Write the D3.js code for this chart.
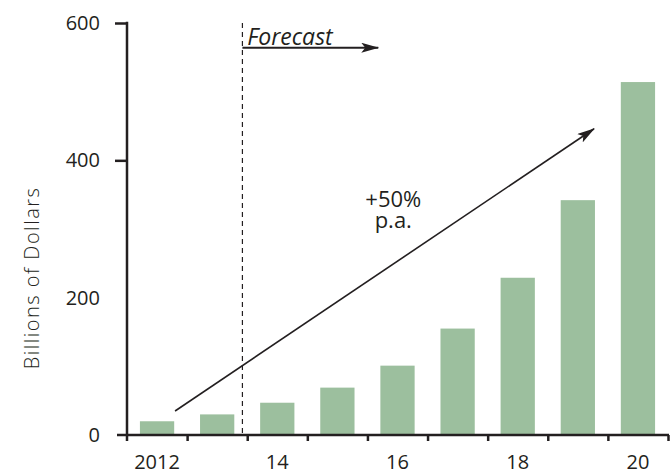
<!DOCTYPE html>
<html>
<head>
<meta charset="utf-8">
<script src="https://cdn.jsdelivr.net/npm/d3@7"></script>
<style>
  body { margin: 0; background: #fff; }
  text { font-family: "Open Sans", "Noto Sans", sans-serif; fill: #231f20; }
</style>
</head>
<body>
<script>
// chart data
var years = [2012, 2013, 2014, 2015, 2016, 2017, 2018, 2019, 2020];
var values = [20, 30, 47, 69, 101, 155, 229, 342, 514];
var yTicks = [0, 200, 400, 600];
var xLabelYears = [2012, 2014, 2016, 2018, 2020];
var xLabelText = ["2012", "14", "16", "18", "20"];

var W = 670, H = 473;
// plot edges (note: "top" is a reserved window prop, so use plot*)
var plotLeft = 127, plotRight = 668, plotTop = 23, plotBottom = 435;
var ink = "#231f20";

var svg = d3.select("body").append("svg")
    .attr("width", W)
    .attr("height", H);

// arrowheads
var defs = svg.append("defs");
defs.append("marker")
    .attr("id", "head")
    .attr("viewBox", "0 0 18 10")
    .attr("refX", 17).attr("refY", 5)
    .attr("markerWidth", 18).attr("markerHeight", 10)
    .attr("markerUnits", "userSpaceOnUse")
    .attr("orient", "auto")
  .append("path")
    .attr("d", "M0,0 L18,5 L0,10 L4,5 Z")
    .attr("fill", ink);

var x = d3.scaleBand()
    .domain(years)
    .range([plotLeft, plotRight])
    .paddingInner(0.43)
    .paddingOuter(0.215);

// continuous version of the year axis (band edges at half years)
var xc = d3.scaleLinear()
    .domain([years[0] - 0.5, years[years.length - 1] + 0.5])
    .range([plotLeft, plotRight]);

var y = d3.scaleLinear().domain([0, 600]).range([plotBottom, plotTop]);

// bars
svg.append("g").selectAll("rect")
    .data(years)
  .enter().append("rect")
    .attr("x", function (d) { return x(d); })
    .attr("width", x.bandwidth())
    .attr("y", function (d, i) { return y(values[i]); })
    .attr("height", function (d, i) { return y(0) - y(values[i]); })
    .attr("fill", "#9cbf9e");

// y axis
var gY = svg.append("g")
    .attr("transform", "translate(" + plotLeft + ",0)")
    .call(d3.axisLeft(y).tickValues(yTicks).tickSize(12).tickPadding(15).tickFormat(d3.format("d")));
gY.select(".domain").remove();
gY.selectAll(".tick line")
    .attr("stroke", ink).attr("stroke-width", 2.5)
    .style("display", function (d) { return d === 400 || d === 600 ? null : "none"; });
gY.selectAll(".tick text")
    .attr("font-size", 20).style("fill", ink);
svg.append("line")
    .attr("x1", plotLeft).attr("x2", plotLeft)
    .attr("y1", y(600) - 1.2).attr("y2", plotBottom + 6)
    .attr("stroke", ink).attr("stroke-width", 2.5);

// x axis: ticks on band edges
var edges = d3.range(years[0] - 0.5, years[years.length - 1] + 1, 1);
var gX = svg.append("g")
    .attr("transform", "translate(0," + plotBottom + ")")
    .call(d3.axisBottom(xc).tickValues(edges.slice(1)).tickSize(6).tickFormat(""));
gX.select(".domain").remove();
gX.selectAll(".tick line").attr("stroke", ink).attr("stroke-width", 2.5);
svg.append("line")
    .attr("x1", plotLeft - 10).attr("x2", plotRight + 1)
    .attr("y1", plotBottom).attr("y2", plotBottom)
    .attr("stroke", ink).attr("stroke-width", 2.5);

svg.append("g").selectAll("text")
    .data(xLabelYears)
  .enter().append("text")
    .attr("x", function (d) { return x(d) + x.bandwidth() / 2; })
    .attr("y", 469)
    .attr("text-anchor", "middle")
    .attr("font-size", 20)
    .text(function (d, i) { return xLabelText[i]; });

// y label
svg.append("text")
    .attr("transform", "translate(39,278) rotate(-90)")
    .attr("text-anchor", "middle")
    .attr("font-size", 20)
    .attr("font-weight", 300)
    .attr("letter-spacing", 1.5)
    .text("Billions of Dollars");

// forecast divider
var forecastX = xc(2013.42);
svg.append("line")
    .attr("x1", forecastX).attr("x2", forecastX)
    .attr("y1", y(600)).attr("y2", plotBottom)
    .attr("stroke", ink).attr("stroke-width", 1.2)
    .attr("stroke-dasharray", "5,4");

svg.append("line")
    .attr("x1", forecastX).attr("x2", xc(2015.68))
    .attr("y1", y(564)).attr("y2", y(564))
    .attr("stroke", ink).attr("stroke-width", 2)
    .attr("marker-end", "url(#head)");

svg.append("text")
    .attr("x", xc(2013.5))
    .attr("y", y(568))
    .attr("font-size", 23)
    .attr("font-style", "italic")
    .text("Forecast");

// growth arrow
svg.append("line")
    .attr("x1", xc(2012.3)).attr("y1", y(35))
    .attr("x2", xc(2019.27)).attr("y2", y(446))
    .attr("stroke", ink).attr("stroke-width", 1.6)
    .attr("marker-end", "url(#head)");

svg.append("text")
    .attr("x", xc(2015.93)).attr("y", y(332))
    .attr("text-anchor", "middle")
    .attr("font-size", 22)
    .text("+50%");
svg.append("text")
    .attr("x", xc(2015.93)).attr("y", y(302))
    .attr("text-anchor", "middle")
    .attr("font-size", 22)
    .text("p.a.");
</script>
</body>
</html>
